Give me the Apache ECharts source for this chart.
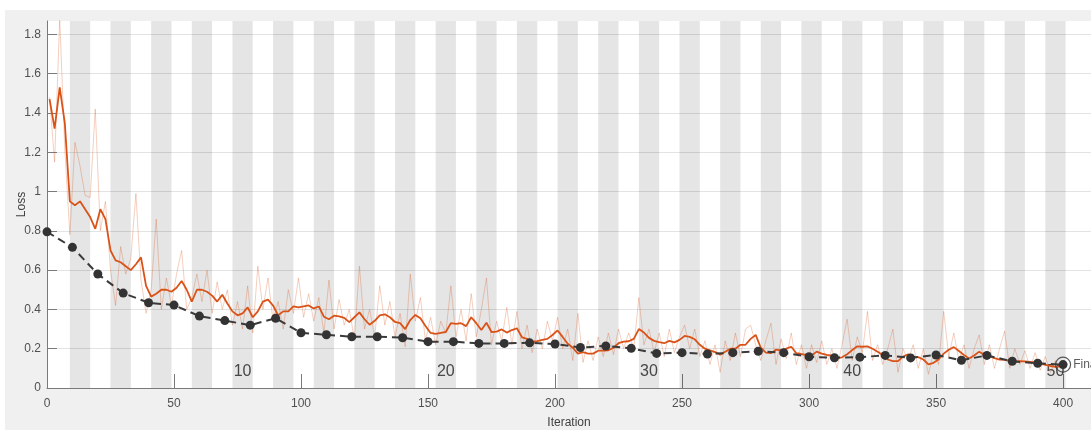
<!DOCTYPE html>
<html>
<head>
<meta charset="utf-8">
<script src="https://cdn.jsdelivr.net/npm/echarts@6/dist/echarts.min.js"></script>
<style>
  html, body { margin: 0; padding: 0; background: #ffffff; }
  #wrap { position: relative; width: 1091px; height: 430px; background: #ffffff; overflow: hidden; }
  #frame { position: absolute; left: 5px; top: 10px; right: 0; bottom: 0; background: #f0f0f0; }
  #chart { position: absolute; left: 0; top: 0; width: 1091px; height: 430px; }
</style>
</head>
<body>
<div id="wrap"><div id="frame"></div><div id="chart"></div></div>
<script>
// ---- data ----
const iterationsPerEpoch = 8;
const numEpochs = 50;
const epochLabels = [10, 20, 30, 40, 50];
const xTicks = [0, 50, 100, 150, 200, 250, 300, 350, 400];
const yTicks = [0, 0.2, 0.4, 0.6, 0.8, 1, 1.2, 1.4, 1.6, 1.8];

// training iterations sampled every 2 (1, 3, 5, ... 399)
const trainFirstIter = 1;
const trainIterStep = 2;

const trainSmoothed = [
  1.47, 1.32, 1.53, 1.35, 0.95, 0.93, 0.95, 0.91, 0.87, 0.81,
  0.91, 0.86, 0.70, 0.65, 0.64, 0.62, 0.60, 0.63, 0.665, 0.52,
  0.465, 0.48, 0.50, 0.50, 0.49, 0.51, 0.545, 0.50, 0.44, 0.50,
  0.50, 0.49, 0.47, 0.44, 0.475, 0.43, 0.39, 0.37, 0.38, 0.41,
  0.36, 0.39, 0.44, 0.45, 0.42, 0.37, 0.39, 0.39, 0.415, 0.41,
  0.415, 0.42, 0.405, 0.415, 0.363, 0.35, 0.368, 0.365, 0.357, 0.335,
  0.36, 0.385, 0.35, 0.322, 0.342, 0.37, 0.375, 0.36, 0.336, 0.33,
  0.30, 0.346, 0.372, 0.355, 0.316, 0.28, 0.275, 0.28, 0.285, 0.33,
  0.326, 0.33, 0.315, 0.36, 0.33, 0.295, 0.332, 0.285, 0.287, 0.298,
  0.282, 0.295, 0.304, 0.258, 0.25, 0.236, 0.238, 0.245, 0.25, 0.27,
  0.293, 0.26, 0.225, 0.205, 0.175, 0.182, 0.175, 0.175, 0.19, 0.19,
  0.192, 0.205, 0.228, 0.236, 0.238, 0.25, 0.30, 0.282, 0.255, 0.24,
  0.233, 0.228, 0.24, 0.232, 0.245, 0.265, 0.26, 0.248, 0.22, 0.20,
  0.192, 0.183, 0.17, 0.185, 0.20, 0.20, 0.22, 0.22, 0.25, 0.27,
  0.205, 0.18, 0.177, 0.195, 0.192, 0.20, 0.21, 0.177, 0.173, 0.168,
  0.165, 0.185, 0.175, 0.168, 0.165, 0.152, 0.156, 0.172, 0.193, 0.212,
  0.21, 0.212, 0.20, 0.185, 0.168, 0.145, 0.137, 0.137, 0.16, 0.172,
  0.157, 0.157, 0.145, 0.12, 0.128, 0.145, 0.175, 0.195, 0.208, 0.188,
  0.168, 0.15, 0.165, 0.185, 0.168, 0.162, 0.152, 0.145, 0.143, 0.138,
  0.135, 0.137, 0.136, 0.133, 0.13, 0.124, 0.118, 0.112, 0.107, 0.11
];

const trainRaw = [
  1.48, 1.15, 1.88, 1.22, 0.78, 1.25, 1.13, 0.98, 0.97, 1.42,
  0.80, 0.95, 0.60, 0.42, 0.72, 0.58, 0.66, 0.99, 0.55, 0.38,
  0.50, 0.86, 0.40, 0.56, 0.42, 0.58, 0.70, 0.40, 0.46, 0.58,
  0.44, 0.60, 0.38, 0.54, 0.40, 0.50, 0.32, 0.44, 0.30, 0.52,
  0.28, 0.62, 0.40, 0.56, 0.34, 0.44, 0.30, 0.50, 0.38, 0.56,
  0.36, 0.48, 0.34, 0.46, 0.28, 0.55, 0.30, 0.45, 0.32, 0.40,
  0.25, 0.62, 0.30, 0.40, 0.26, 0.52, 0.32, 0.44, 0.26, 0.38,
  0.21, 0.58, 0.34, 0.46, 0.24, 0.36, 0.22, 0.34, 0.28, 0.52,
  0.26, 0.40, 0.24, 0.48, 0.26, 0.40, 0.56, 0.22, 0.34, 0.24,
  0.41, 0.22, 0.39, 0.20, 0.32, 0.18, 0.30, 0.20, 0.34, 0.24,
  0.36, 0.20, 0.30, 0.14, 0.38, 0.13, 0.24, 0.14, 0.26, 0.16,
  0.28, 0.17, 0.30, 0.20, 0.28, 0.20, 0.46, 0.22, 0.30, 0.18,
  0.28, 0.16, 0.30, 0.18, 0.26, 0.32, 0.20, 0.30, 0.16, 0.24,
  0.12, 0.22, 0.08, 0.24, 0.14, 0.28, 0.16, 0.30, 0.32, 0.22,
  0.14, 0.24, 0.33, 0.12, 0.25, 0.15, 0.28, 0.12, 0.22, 0.10,
  0.22, 0.13, 0.24, 0.12, 0.20, 0.10, 0.22, 0.35, 0.14, 0.26,
  0.18, 0.39, 0.14, 0.22, 0.12, 0.20, 0.30, 0.08, 0.20, 0.14,
  0.22, 0.10, 0.20, 0.07, 0.18, 0.12, 0.39, 0.16, 0.28, 0.14,
  0.22, 0.10, 0.20, 0.27, 0.12, 0.22, 0.10, 0.20, 0.29, 0.10,
  0.20, 0.12, 0.19, 0.10, 0.18, 0.09, 0.16, 0.08, 0.14, 0.10
];

const valIterations = [0, 10, 20, 30, 40, 50, 60, 70, 80, 90, 100, 110, 120, 130, 140, 150, 160, 170, 180, 190, 200,
  210, 220, 230, 240, 250, 260, 270, 280, 290, 300, 310, 320, 330, 340, 350, 360, 370, 380, 390, 400];
const valLoss = [0.795, 0.716, 0.58, 0.483, 0.434, 0.422, 0.366, 0.343, 0.32, 0.355, 0.281,
  0.271, 0.261, 0.261, 0.256, 0.236, 0.236, 0.227, 0.227, 0.23, 0.224,
  0.206, 0.214, 0.202, 0.176, 0.18, 0.173, 0.18, 0.187, 0.18, 0.159,
  0.154, 0.157, 0.166, 0.153, 0.168, 0.141, 0.166, 0.136, 0.126, 0.119];

// ---- build series data ----
const trainIters = trainSmoothed.map((_, i) => trainFirstIter + i * trainIterStep);
const smoothData = trainSmoothed.map((v, i) => [trainIters[i], v]);
const rawData = trainRaw.map((v, i) => [trainIters[i], v]);
const valData = valLoss.map((v, i) => [valIterations[i], v]);
const finalPoint = [[valIterations[valIterations.length - 1], valLoss[valLoss.length - 1]]];

// epoch shading (even epochs grey); epoch k covers iterations (k-1)*8+1 .. k*8+1
const bands = [];
for (let k = 2; k <= numEpochs; k += 2) {
  bands.push([{ xAxis: (k - 1) * iterationsPerEpoch + 1 }, { xAxis: k * iterationsPerEpoch + 1 }]);
}
const epochLabelPos = epochLabels.map(e => (e - 0.5) * iterationsPerEpoch + 1);

const FONT = "'Liberation Sans', Arial, sans-serif";
const chart = echarts.init(document.getElementById('chart'), null, { renderer: 'canvas' });
chart.setOption({
  animation: false,
  backgroundColor: 'transparent',
  textStyle: { fontFamily: FONT },
  grid: { show: true, backgroundColor: '#ffffff', borderWidth: 0, left: 47, right: 0, top: 21, bottom: 42,
    containLabel: false, outerBoundsMode: 'none' },
  xAxis: [{
    type: 'value', min: 0, max: 411, interval: 50,
    name: 'Iteration', nameLocation: 'middle', nameGap: 29, nameMoveOverlap: false,
    nameTextStyle: { color: '#404040', fontSize: 12, fontFamily: FONT },
    axisLine: { show: true, lineStyle: { color: '#7a7a7a', width: 1 } },
    axisTick: { show: true, inside: true, length: 14, customValues: xTicks, lineStyle: { color: '#7a7a7a' } },
    axisLabel: { color: '#505050', fontSize: 12, margin: 10, fontFamily: FONT, customValues: xTicks },
    splitLine: { show: false }
  }, {
    type: 'value', min: 0, max: 411, position: 'bottom',
    axisLine: { show: false }, axisTick: { show: false }, splitLine: { show: false },
    axisLabel: {
      inside: true, margin: 8, color: '#505050', fontSize: 16, fontFamily: FONT,
      customValues: epochLabelPos,
      formatter: v => String(Math.round((v - 1) / iterationsPerEpoch + 0.5))
    }
  }],
  yAxis: {
    type: 'value', min: 0, max: 1.868, interval: 0.2,
    name: 'Loss', nameLocation: 'middle', nameGap: 19, nameMoveOverlap: false,
    nameTextStyle: { color: '#404040', fontSize: 12, fontFamily: FONT },
    axisLine: { show: true, lineStyle: { color: '#7a7a7a', width: 1 } },
    axisTick: { show: true, inside: true, length: 10, customValues: yTicks, lineStyle: { color: '#7a7a7a' } },
    axisLabel: { color: '#505050', fontSize: 12, margin: 6, fontFamily: FONT, customValues: yTicks,
      formatter: v => String(Math.round(v * 10) / 10) },
    splitLine: { show: true, lineStyle: { color: '#e3e3e3', width: 1 } }
  },
  series: [
    {
      type: 'line', name: 'Training (raw)', data: rawData, symbol: 'none', clip: true,
      lineStyle: { color: '#d95319', width: 1, opacity: 0.28 }, z: 2,
      markArea: { silent: true, itemStyle: { color: 'rgba(0,0,0,0.1)' }, data: bands }
    },
    {
      type: 'line', name: 'Training (smoothed)', data: smoothData, symbol: 'none', clip: true,
      lineStyle: { color: '#d95319', width: 1.8 }, z: 3
    },
    {
      type: 'line', name: 'Validation', data: valData, symbol: 'circle', symbolSize: 9,
      itemStyle: { color: '#333333' },
      lineStyle: { color: '#3a3a3a', width: 2, type: [8, 5] }, z: 4
    },
    {
      type: 'scatter', name: 'Final', data: finalPoint, symbol: 'circle', symbolSize: 15,
      itemStyle: { color: 'rgba(0,0,0,0)', borderColor: '#333333', borderWidth: 1.2 },
      label: { show: true, position: 'right', distance: 2, formatter: 'Final', color: '#333333', fontSize: 12, fontFamily: FONT },
      z: 5
    }
  ]
});
</script>
</body>
</html>
